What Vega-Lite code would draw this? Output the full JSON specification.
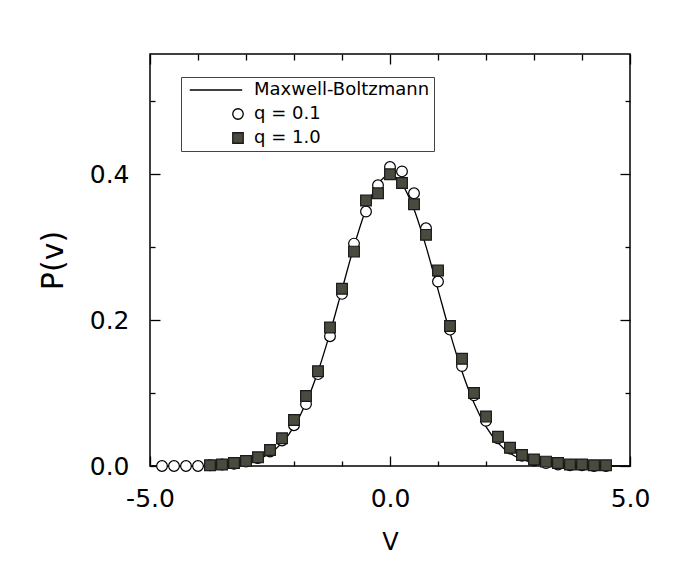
{
  "$schema": "https://vega.github.io/schema/vega-lite/v6.json",
  "width": 480,
  "height": 412,
  "autosize": "none",
  "padding": {"left": 150, "top": 54, "right": 67, "bottom": 97},
  "background": "white",
  "config": {
    "font": "DejaVu Sans",
    "view": {"stroke": "black", "strokeWidth": 1.5},
    "axis": {
      "domain": false,
      "grid": false,
      "tickColor": "black",
      "tickWidth": 1.3,
      "labelColor": "black",
      "titleColor": "black",
      "labelFont": "DejaVu Sans",
      "titleFont": "DejaVu Sans",
      "titleFontWeight": "normal",
      "labelFlush": false
    },
    "legend": {
      "title": null, "orient": "none", "legendX": 31, "legendY": 23,
      "strokeColor": "#444", "fillColor": "white", "padding": 4,
      "labelFontSize": 18, "labelFont": "DejaVu Sans", "labelColor": "black", "labelLimit": 400,
      "symbolSize": 110, "symbolStrokeWidth": 1.3,
      "rowPadding": 6, "labelOffset": 7, "symbolOffset": 44
    }
  },
  "datasets": {
    "mb": [
      {"v": -5.0, "p": 0.0000015}, {"v": -4.75, "p": 0.000005}, {"v": -4.5, "p": 0.000016}, {"v": -4.25, "p": 0.000048},
      {"v": -4.0, "p": 0.000134}, {"v": -3.75, "p": 0.000353}, {"v": -3.5, "p": 0.000873}, {"v": -3.25, "p": 0.002029},
      {"v": -3.0, "p": 0.004432}, {"v": -2.75, "p": 0.009094}, {"v": -2.5, "p": 0.017528}, {"v": -2.25, "p": 0.03174},
      {"v": -2.0, "p": 0.053991}, {"v": -1.75, "p": 0.086277}, {"v": -1.5, "p": 0.129518}, {"v": -1.25, "p": 0.182649},
      {"v": -1.0, "p": 0.241971}, {"v": -0.75, "p": 0.301137}, {"v": -0.5, "p": 0.352065}, {"v": -0.25, "p": 0.386668},
      {"v": 0.0, "p": 0.398942},
      {"v": 0.25, "p": 0.386668}, {"v": 0.5, "p": 0.352065}, {"v": 0.75, "p": 0.301137}, {"v": 1.0, "p": 0.241971},
      {"v": 1.25, "p": 0.182649}, {"v": 1.5, "p": 0.129518}, {"v": 1.75, "p": 0.086277}, {"v": 2.0, "p": 0.053991},
      {"v": 2.25, "p": 0.03174}, {"v": 2.5, "p": 0.017528}, {"v": 2.75, "p": 0.009094}, {"v": 3.0, "p": 0.004432},
      {"v": 3.25, "p": 0.002029}, {"v": 3.5, "p": 0.000873}, {"v": 3.75, "p": 0.000353}, {"v": 4.0, "p": 0.000134},
      {"v": 4.25, "p": 0.000048}, {"v": 4.5, "p": 0.000016}, {"v": 4.75, "p": 0.000005}, {"v": 5.0, "p": 0.0000015}
    ],
    "pts": [
      {"series": "q = 0.1", "v": -4.75, "p": 0.0}, {"series": "q = 0.1", "v": -4.5, "p": 0.0},
      {"series": "q = 0.1", "v": -4.25, "p": 0.0}, {"series": "q = 0.1", "v": -4.0, "p": 0.0},
      {"series": "q = 0.1", "v": -3.75, "p": 0.001}, {"series": "q = 0.1", "v": -3.5, "p": 0.002},
      {"series": "q = 0.1", "v": -3.25, "p": 0.003}, {"series": "q = 0.1", "v": -3.0, "p": 0.006},
      {"series": "q = 0.1", "v": -2.75, "p": 0.011}, {"series": "q = 0.1", "v": -2.5, "p": 0.02},
      {"series": "q = 0.1", "v": -2.25, "p": 0.035}, {"series": "q = 0.1", "v": -2.0, "p": 0.056},
      {"series": "q = 0.1", "v": -1.75, "p": 0.085}, {"series": "q = 0.1", "v": -1.5, "p": 0.126},
      {"series": "q = 0.1", "v": -1.25, "p": 0.178}, {"series": "q = 0.1", "v": -1.0, "p": 0.236},
      {"series": "q = 0.1", "v": -0.75, "p": 0.305}, {"series": "q = 0.1", "v": -0.5, "p": 0.349},
      {"series": "q = 0.1", "v": -0.25, "p": 0.385}, {"series": "q = 0.1", "v": 0.0, "p": 0.41},
      {"series": "q = 0.1", "v": 0.25, "p": 0.404}, {"series": "q = 0.1", "v": 0.5, "p": 0.374},
      {"series": "q = 0.1", "v": 0.75, "p": 0.326}, {"series": "q = 0.1", "v": 1.0, "p": 0.253},
      {"series": "q = 0.1", "v": 1.25, "p": 0.187}, {"series": "q = 0.1", "v": 1.5, "p": 0.137},
      {"series": "q = 0.1", "v": 1.75, "p": 0.097}, {"series": "q = 0.1", "v": 2.0, "p": 0.062},
      {"series": "q = 0.1", "v": 2.25, "p": 0.038}, {"series": "q = 0.1", "v": 2.5, "p": 0.024},
      {"series": "q = 0.1", "v": 2.75, "p": 0.014}, {"series": "q = 0.1", "v": 3.0, "p": 0.008},
      {"series": "q = 0.1", "v": 3.25, "p": 0.004}, {"series": "q = 0.1", "v": 3.5, "p": 0.002},
      {"series": "q = 0.1", "v": 3.75, "p": 0.001}, {"series": "q = 0.1", "v": 4.0, "p": 0.001},
      {"series": "q = 0.1", "v": 4.25, "p": 0.0}, {"series": "q = 0.1", "v": 4.5, "p": 0.0},
      {"series": "q = 1.0", "v": -3.75, "p": 0.001}, {"series": "q = 1.0", "v": -3.5, "p": 0.002},
      {"series": "q = 1.0", "v": -3.25, "p": 0.004}, {"series": "q = 1.0", "v": -3.0, "p": 0.007},
      {"series": "q = 1.0", "v": -2.75, "p": 0.012}, {"series": "q = 1.0", "v": -2.5, "p": 0.022},
      {"series": "q = 1.0", "v": -2.25, "p": 0.038}, {"series": "q = 1.0", "v": -2.0, "p": 0.063},
      {"series": "q = 1.0", "v": -1.75, "p": 0.096}, {"series": "q = 1.0", "v": -1.5, "p": 0.13},
      {"series": "q = 1.0", "v": -1.25, "p": 0.19}, {"series": "q = 1.0", "v": -1.0, "p": 0.243},
      {"series": "q = 1.0", "v": -0.75, "p": 0.294}, {"series": "q = 1.0", "v": -0.5, "p": 0.364},
      {"series": "q = 1.0", "v": -0.25, "p": 0.374}, {"series": "q = 1.0", "v": 0.0, "p": 0.4},
      {"series": "q = 1.0", "v": 0.25, "p": 0.388}, {"series": "q = 1.0", "v": 0.5, "p": 0.359},
      {"series": "q = 1.0", "v": 0.75, "p": 0.317}, {"series": "q = 1.0", "v": 1.0, "p": 0.268},
      {"series": "q = 1.0", "v": 1.25, "p": 0.192}, {"series": "q = 1.0", "v": 1.5, "p": 0.147},
      {"series": "q = 1.0", "v": 1.75, "p": 0.1}, {"series": "q = 1.0", "v": 2.0, "p": 0.068},
      {"series": "q = 1.0", "v": 2.25, "p": 0.04}, {"series": "q = 1.0", "v": 2.5, "p": 0.025},
      {"series": "q = 1.0", "v": 2.75, "p": 0.015}, {"series": "q = 1.0", "v": 3.0, "p": 0.009},
      {"series": "q = 1.0", "v": 3.25, "p": 0.006}, {"series": "q = 1.0", "v": 3.5, "p": 0.004},
      {"series": "q = 1.0", "v": 3.75, "p": 0.002}, {"series": "q = 1.0", "v": 4.0, "p": 0.002},
      {"series": "q = 1.0", "v": 4.25, "p": 0.001}, {"series": "q = 1.0", "v": 4.5, "p": 0.001}
    ]
  },
  "layer": [
    {
      "data": {"name": "mb"},
      "mark": {"type": "line", "color": "black", "strokeWidth": 1.3, "interpolate": "monotone"},
      "encoding": {
        "x": {
          "field": "v", "type": "quantitative",
          "scale": {"domain": [-5, 5], "nice": false, "zero": false},
          "axis": {
            "orient": "bottom",
            "values": [-5, -4, -3, -2, -1, 0, 1, 2, 3, 4, 5],
            "labelExpr": "datum.value == -5 ? '-5.0' : datum.value == 0 ? '0.0' : datum.value == 5 ? '5.0' : ''",
            "labelOverlap": false,
            "labelFontSize": 25,
            "tickSize": {"condition": {"test": "datum.value % 5 == 0", "value": -10}, "value": -5},
            "labelPadding": 30,
            "title": "V",
            "titleFontSize": 24,
            "titlePadding": 14
          }
        },
        "y": {
          "field": "p", "type": "quantitative",
          "scale": {"domain": [0, 0.565], "nice": false, "zero": false},
          "axis": {
            "orient": "left",
            "values": [0, 0.1, 0.2, 0.3, 0.4, 0.5],
            "labelExpr": "round(datum.value * 10) % 2 == 0 ? format(datum.value, '.1f') : ''",
            "labelOverlap": false,
            "labelFontSize": 25,
            "tickSize": {"condition": {"test": "round(datum.value * 10) % 2 == 0", "value": -10}, "value": -5},
            "labelPadding": 31,
            "title": "P(v)",
            "titleFontSize": 30,
            "titlePadding": 21
          }
        }
      }
    },
    {
      "data": {"name": "pts"},
      "mark": {"type": "point", "filled": false, "strokeWidth": 1.2, "opacity": 1},
      "encoding": {
        "x": {
          "field": "v", "type": "quantitative",
          "axis": {
            "orient": "top",
            "values": [-5, -4, -3, -2, -1, 0, 1, 2, 3, 4, 5],
            "labels": false,
            "title": null,
            "tickSize": {"condition": {"test": "datum.value % 5 == 0", "value": -10}, "value": -6}
          }
        },
        "y": {
          "field": "p", "type": "quantitative",
          "axis": {
            "orient": "right",
            "values": [0, 0.1, 0.2, 0.3, 0.4, 0.5],
            "labels": false,
            "title": null,
            "tickSize": {"condition": {"test": "round(datum.value * 10) % 2 == 0", "value": -10}, "value": -5}
          }
        },
        "shape": {
          "field": "series", "type": "nominal",
          "scale": {"domain": ["Maxwell-Boltzmann", "q = 0.1", "q = 1.0"], "range": ["M-9.2,0H0.8", "circle", "square"]}
        },
        "fill": {
          "field": "series", "type": "nominal",
          "scale": {"domain": ["Maxwell-Boltzmann", "q = 0.1", "q = 1.0"], "range": ["transparent", "white", "#4a4a3e"]}
        },
        "stroke": {
          "field": "series", "type": "nominal",
          "scale": {"domain": ["Maxwell-Boltzmann", "q = 0.1", "q = 1.0"], "range": ["black", "black", "#1a1a1a"]}
        },
        "size": {"value": 115}
      }
    }
  ],
  "resolve": {"axis": {"x": "independent", "y": "independent"}}
}
